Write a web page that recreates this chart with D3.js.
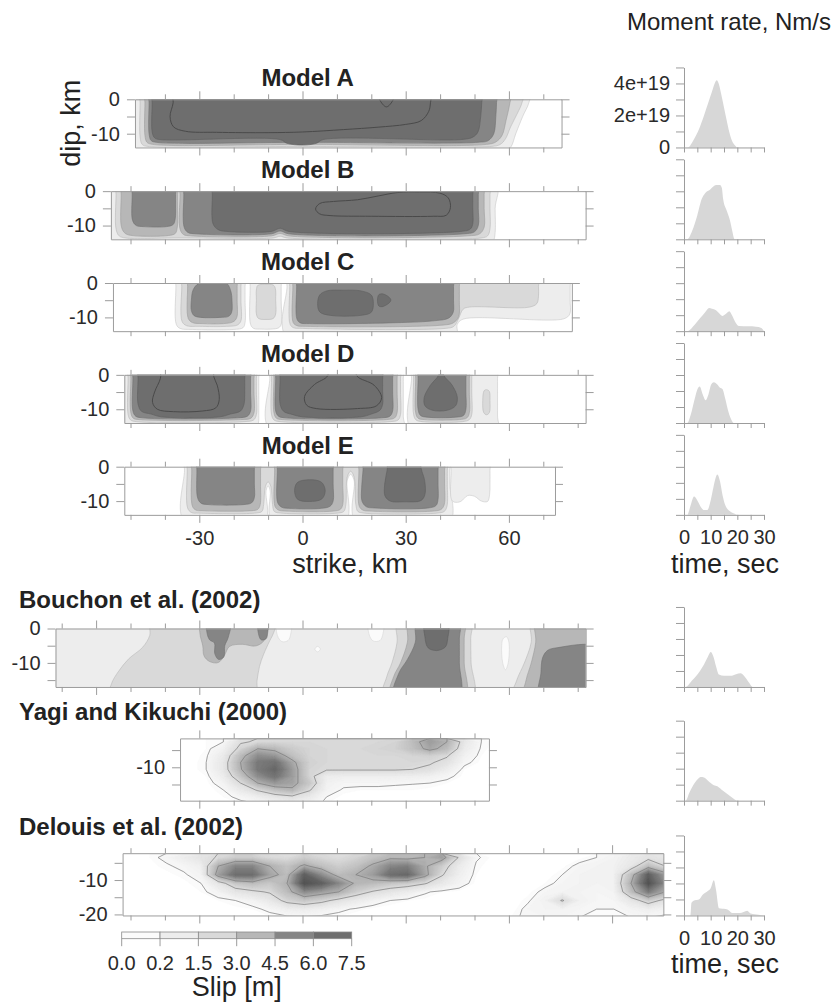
<!DOCTYPE html>
<html><head><meta charset="utf-8">
<script src="https://cdn.jsdelivr.net/npm/d3@7"></script>
<style>body{margin:0;background:#fff}svg{display:block}</style>
</head><body><script>
// ---------------- DATA ----------------
const modelTitles = ['Model A','Model B','Model C','Model D','Model E'];
const modelExtents = [[-48.7,75.3],[-55.7,82.3],[-55.1,78.3],[-51.8,82.3],[-51.8,73.4]];
const refTitles = ['Bouchon et al. (2002)','Yagi and Kikuchi (2000)','Delouis et al. (2002)'];
const refExtents = [[-71.8,82.3],[-35.6,54.2],[-52.3,104.9]];
const refDips = [[0,-17],[-1.6,-19.7],[-2.2,-20.3]];
const slipLevels = [0.0,0.2,1.5,3.0,4.5,6.0,7.5];
const slipColors = ['#fbfbfb','#ededed','#d9d9d9','#b7b7b7','#858585','#6e6e6e'];
const strikeLabels = [-30,0,30,60];
const timeTicks = [0,5,10,15,20,25,30];
const timeLabels = [0,10,20,30];
const momentTicks = [0,1,2,3,4,5];
const momentLabels = {0:'0',2:'2e+19',4:'4e+19'};

// slip contour rings [level, [[strike km, dip km], ...]]
const modelA = [
 [0.2,[[-51,3],[-51,-16],[58,-16],[60.5,-14],[62,-10],[64,-5],[65.8,-1],[66.2,3]]],
 [1.5,[[-47.2,3],[-47.2,-1],[-47.2,-11],[-46.6,-13.1],[-45,-13.7],[0,-13.7],[55,-13.7],[57.5,-13.1],[59,-11.5],[60.5,-8],[62.5,-4],[63.8,-1],[64.2,3]]],
 [3.0,[[-45.8,3],[-45.8,-1],[-45.8,-10.5],[-45.2,-12.5],[-43.5,-13.1],[0,-13.1],[53.5,-13.1],[56.2,-12.4],[58,-10.5],[59.2,-6],[60.3,-1],[60.6,3]]],
 [4.5,[[-44.6,3],[-44.6,-1],[-44.6,-10],[-44,-12],[-42.5,-12.5],[0,-12.5],[51,-12.5],[54,-12],[55.6,-10],[56.2,-5],[56.4,-1],[56.4,3]]],
 [6.0,[[-43.7,3],[-43.7,-1],[-43.7,-9.5],[-43,-11.2],[-41.5,-11.7],[-6.5,-11.7],[-4.5,-12.8],[0,-13.3],[4,-12.8],[6,-11.7],[46,-11.7],[49.5,-11],[51,-9.5],[51.8,-5],[52.1,-1],[52.1,3]]],
 [7.5,[[-37.6,3],[-37.6,-1],[-38.5,-5],[-37.5,-8],[-34,-9.3],[-25,-9.6],[-10,-9.7],[0,-9.5],[12,-8.8],[22,-8.1],[30,-7.3],[34.5,-6.2],[36.7,-3.5],[37.2,-1],[37.3,3],[26.6,3],[26.4,0],[24.4,-2.2],[22.4,0],[22.2,3]]]
];
const modelB = [
 [0.2,[[-58,3],[-58,-16],[54,-16],[55.5,-14.5],[56,-12],[56,-5],[56,3]]],
 [1.5,[[-54.2,3],[-54.2,-1],[-54.2,-11],[-53.3,-13],[-51.5,-13.6],[-36,-13.6],[-8.5,-13.6],[-6.5,-13.1],[-4.5,-13.6],[52,-13.6],[53.8,-13],[54.5,-11],[54.5,-5],[54.5,-1],[54.5,3]]],
 [3.0,[[-52.7,3],[-52.7,-1],[-52.6,-10.5],[-51.5,-12.3],[-49.5,-12.9],[-39,-12.9],[-37,-12.3],[-36.4,-10.5],[-36.3,-5],[-36.3,-1],[-36.3,3]]],
 [3.0,[[-35.6,3],[-35.6,-1],[-35.6,-11],[-34.6,-12.6],[-32.5,-13],[-9,-13],[-6.5,-12.3],[-4,-13],[48,-13],[51.5,-12.4],[52.8,-10.5],[52.8,-5],[52.8,-1],[52.8,3]]],
 [4.5,[[-49.5,3],[-49.5,-1],[-49.4,-8.5],[-48.3,-10],[-46.3,-10.3],[-39.5,-10.3],[-37.6,-9.7],[-37,-8],[-36.9,-4],[-36.9,-1],[-36.9,3]]],
 [4.5,[[-34.5,3],[-34.5,-1],[-34.4,-10.5],[-33.3,-12],[-31,-12.4],[-9,-12.4],[-6.5,-11.6],[-4,-12.4],[47,-12.4],[50,-11.8],[51.1,-10],[51.1,-5],[51.1,-1],[51.1,3]]],
 [6.0,[[-26.2,3],[-26.2,-1],[-26,-9.5],[-24.5,-11.2],[-22,-11.7],[-9,-11.7],[-6.5,-10.8],[-4,-11.7],[46,-11.7],[48.8,-11],[49.5,-9.5],[49.5,-5],[49.5,-1],[49.5,3]]],
 [7.5,[[3.8,-5.2],[5,-3.6],[9,-3],[16,-2.5],[22,-1.4],[27.7,-0.4],[34,-0.3],[40,-0.6],[42.4,-2],[43,-4.8],[41.8,-7],[38,-7.3],[20,-7.3],[8,-7.1],[5,-6.6]]]
];
const modelC = [
 [0.2,[[-36.8,3],[-36.8,-1],[-36.7,-12],[-35.6,-13.2],[-32,-13.5],[-20,-13.5],[-17.3,-13],[-16.7,-11.5],[-16.7,-5],[-16.7,-1],[-16.7,3]]],
 [1.5,[[-35.1,3],[-35.1,-1],[-35,-11.2],[-33.7,-12.4],[-30,-12.6],[-22,-12.6],[-18.9,-12.2],[-17.9,-11],[-17.9,-5],[-17.9,-1],[-17.9,3]]],
 [3.0,[[-33.4,3],[-33.4,-1],[-33.2,-10.3],[-32,-11.5],[-29,-11.8],[-23,-11.8],[-20.2,-11.3],[-19.1,-10],[-19,-5],[-19,-1],[-19,3]]],
 [4.5,[[-32.3,-5],[-31.8,-2],[-30.2,-0.1],[-28,0.5],[-24,0.5],[-21.9,-0.2],[-20.8,-2.5],[-20.5,-5],[-20.6,-8.5],[-21.5,-9.7],[-24,-10],[-29.5,-10],[-31.5,-9.5],[-32.3,-8]]],
 [0.2,[[-15.2,3],[-15.2,-1],[-15.1,-12],[-14.2,-13.2],[-12,-13.4],[-9,-13.4],[-6.9,-13],[-6.2,-12],[-6.2,-5],[-6.2,-1],[-6.2,3]]],
 [1.5,[[-13.4,-2],[-13,-0.7],[-11,-0.4],[-8.5,-0.6],[-7.9,-1.6],[-7.8,-5],[-7.8,-9],[-8.5,-10.3],[-10.6,-10.6],[-12.8,-10.3],[-13.4,-9],[-13.4,-5]]],
 [0.2,[[-4.5,3],[-4.5,-1],[-4.5,-16],[44.6,-16],[45,-12],[46.7,-10.5],[76,-10.4],[77.7,-9],[77.8,-5],[77.8,-1],[77.8,3]]],
 [1.5,[[-3.7,3],[-3.7,-1],[-3.6,-12],[-2.6,-13],[0,-13.2],[41.5,-13.2],[44,-12.6],[45.3,-10.5],[46.7,-7.6],[48.5,-7],[66,-7],[68.1,-6],[68.6,-4],[68.6,-1],[68.6,3]]],
 [3.0,[[-2.8,3],[-2.8,-1],[-2.7,-11.5],[-1.6,-12.4],[1,-12.6],[40,-12.3],[43.8,-11.6],[45.4,-9.8],[45.6,-5],[45.6,-1],[45.6,3]]],
 [4.5,[[-1.7,3],[-1.7,-1],[-1.6,-10.5],[-0.6,-11.6],[2,-11.8],[25,-11.6],[38,-11],[42.5,-10.2],[43.8,-8.5],[43.9,-5],[43.9,-1],[43.9,3]]],
 [6.0,[[4.4,-6],[5,-3.5],[7,-2.3],[12,-2.1],[17,-2.3],[20,-3.5],[20.6,-6],[20,-8.5],[17,-9.4],[8,-9.4],[5,-8.4]]],
 [6.0,[[21.8,-5],[22.2,-3.4],[23.5,-3.2],[25.5,-4.5],[25.6,-5.3],[23.5,-6.8],[22.2,-6.7]]]
];
const modelD = [
 [0.2,[[-53,3],[-53,-16],[-13.5,-16],[-12.8,-14],[-12.7,-11],[-12.7,-5],[-12.7,-1],[-12.7,3]]],
 [1.5,[[-50.7,3],[-50.7,-1],[-50.7,-11.5],[-50,-13.1],[-48.3,-13.6],[-17,-13.6],[-14.2,-13.1],[-13.4,-11.5],[-13.4,-5],[-13.4,-1],[-13.4,3]]],
 [3.0,[[-49.9,3],[-49.9,-1],[-49.9,-11],[-49.2,-12.6],[-47.5,-13],[-18,-13],[-15,-12.6],[-14.1,-11],[-14.1,-5],[-14.1,-1],[-14.1,3]]],
 [4.5,[[-49.3,3],[-49.3,-1],[-49.3,-10.5],[-48.5,-12],[-46.5,-12.5],[-19,-12.5],[-16,-12],[-15.1,-10.5],[-15.1,-5],[-15.1,-1],[-15.1,3]]],
 [6.0,[[-47.8,3],[-47.8,-1],[-47.8,-8.5],[-46.8,-10.6],[-44,-11.4],[-41,-12.2],[-24,-12.2],[-21,-11.4],[-18,-10.5],[-17,-8.5],[-16.8,-5],[-16.8,-1],[-16.8,3]]],
 [7.5,[[-41,3],[-41.3,-1],[-43,-5],[-43.6,-8],[-42.2,-10],[-37.5,-10.7],[-29,-10.5],[-25.2,-9.6],[-24.2,-7.2],[-24.8,-3],[-25.8,-0.5],[-26,3]]],
 [0.2,[[-9.5,3],[-9.5,-1],[-9.5,-16],[29.3,-16],[29.3,-12],[29.3,-5],[29.3,-1],[29.3,3]]],
 [1.5,[[-9,3],[-9,-1],[-9,-11.5],[-8.3,-13.1],[-6.5,-13.6],[25.5,-13.6],[27.8,-13.1],[28.5,-11.5],[28.5,-5],[28.5,-1],[28.5,3]]],
 [3.0,[[-8.3,3],[-8.3,-1],[-8.3,-11],[-7.6,-12.6],[-5.8,-13],[24.5,-13],[26.8,-12.5],[27.5,-11],[27.5,-5],[27.5,-1],[27.5,3]]],
 [4.5,[[-7.8,3],[-7.8,-1],[-7.8,-10.5],[-7,-12],[-5,-12.5],[23,-12.5],[25.4,-12],[26.2,-10.5],[26.2,-5],[26.2,-1],[26.2,3]]],
 [6.0,[[-6.5,3],[-6.5,-1],[-6.5,-8.5],[-5.5,-10.6],[-3,-11.5],[0,-12.2],[17,-12.2],[20,-11.4],[22.5,-10.3],[23.3,-8.5],[23.3,-5],[23.3,-1],[23.3,3]]],
 [7.5,[[7.5,3],[7.3,-0.3],[3.5,-2.8],[0.6,-6.3],[1.2,-8.8],[4,-9.8],[16,-9.8],[21.5,-9],[23,-6.6],[20.8,-3],[15.8,-0.3],[15.5,3]]],
 [0.2,[[31.7,3],[31.7,-1],[31.7,-16],[56.7,-16],[56.7,-12],[56.7,-5],[56.7,-1],[56.7,3]]],
 [1.5,[[32.3,3],[32.3,-1],[32.3,-11.5],[33,-13.1],[34.8,-13.6],[46.5,-13.6],[48.5,-13],[49.2,-11.5],[49.2,-5],[49.2,-1],[49.2,3]]],
 [1.5,[[52.4,-7.5],[52.8,-4.6],[53.5,-4.3],[54.3,-4.8],[54.5,-7.5],[54.3,-11],[53.5,-11.6],[52.7,-11]]],
 [3.0,[[32.9,3],[32.9,-1],[32.9,-11],[33.6,-12.6],[35.4,-13],[45.6,-13],[47.8,-12.5],[48.5,-11],[48.5,-5],[48.5,-1],[48.5,3]]],
 [4.5,[[33.6,3],[33.6,-1],[33.6,-10],[34.3,-11.8],[36.2,-12.3],[44.5,-12.3],[46.8,-11.8],[47.5,-10],[47.5,-5],[47.5,-1],[47.5,3]]],
 [6.0,[[39.8,3],[39.6,0],[37.2,-3],[35.4,-6.5],[35.6,-9],[37.8,-10.3],[42,-10.3],[44.5,-9],[45,-6.5],[43.5,-3],[41,0],[40.8,3]]]
];
const modelE = [
 [0.2,[[-34.3,3],[-34.3,-1],[-34.3,-16],[-11,-16],[-10.6,-7],[-10,-5.5],[-9.4,-7],[-8.8,-16],[12.5,-16],[13,-4],[14,-2.2],[15,-4],[15.5,-16],[42.8,-16],[42.8,-5],[42.8,-1],[42.8,3]]],
 [1.5,[[-33.5,3],[-33.5,-1],[-33.4,-12],[-32.3,-13.3],[-30,-13.5],[-14,-13.5],[-11.8,-13],[-11.3,-11],[-10.8,-5.8],[-10,-4.4],[-9.2,-5.8],[-8.7,-11],[-8.2,-13],[-6,-13.5],[10,-13.5],[12,-13],[12.6,-11],[13,-3],[14,-1.3],[15,-3],[15.5,-11],[16.1,-13],[18,-13.5],[39,-13.5],[41.2,-13],[42,-11.5],[42.1,-5],[42.1,-1],[42.1,3]]],
 [3.0,[[-32.2,3],[-32.2,-1],[-32,-11.5],[-31,-12.6],[-29,-12.8],[-15,-12.8],[-13,-12.4],[-12.3,-11],[-12.2,-5],[-12.2,-1],[-12.2,3]]],
 [4.5,[[-30.7,3],[-30.7,-1],[-30.5,-9],[-29.5,-10.6],[-27.5,-11],[-17,-11],[-14.8,-10.5],[-14,-9],[-14,-5],[-14,-1],[-14,3]]],
 [3.0,[[-8.1,3],[-8.1,-1],[-8,-11.5],[-7,-12.6],[-5,-12.9],[9,-12.9],[11,-12.4],[11.7,-11],[11.7,-5],[11.7,-1],[11.7,3]]],
 [4.5,[[-7.3,3],[-7.3,-1],[-7.2,-10.5],[-6,-11.8],[-4,-12.1],[5.5,-12.1],[8,-11.5],[8.9,-10],[8.9,-5],[8.9,-1],[8.9,3]]],
 [6.0,[[-2.3,-7],[-1.5,-4.6],[2,-3.8],[5.5,-4.5],[6.6,-7],[5.6,-9.4],[2,-10.1],[-1.4,-9.5]]],
 [3.0,[[16.4,3],[16.4,-1],[16.5,-11.5],[17.5,-12.6],[19.5,-12.9],[38,-12.9],[40.3,-12.4],[41.2,-11],[41.3,-5],[41.3,-1],[41.3,3]]],
 [4.5,[[17.8,3],[17.6,-1],[17.2,-6],[17.3,-10],[18.5,-11.6],[21,-12],[36.5,-12],[38.8,-11.3],[39.4,-9.5],[39.4,-5],[39.4,-1],[39.4,3]]],
 [6.0,[[25,3],[24.6,-1],[23.9,-5],[24,-8.5],[25.5,-10],[29.5,-10.2],[34.5,-9.8],[35.6,-8],[35.5,-4],[34.5,-0.5],[34.2,3]]],
 [0.2,[[43.2,3],[43.2,-1],[43.3,-9.5],[44.2,-10.3],[46,-10.1],[48,-8.4],[50,-8.6],[52,-10],[53.8,-10.1],[54.4,-8],[54.5,-5],[54.5,-1],[54.5,3]]]
];
const bouchon = [
 [0.2,[[-75,3],[-75,-20],[85,-20],[85,3]]],
 [1.5,[[-44,3],[-44.4,-2],[-46.5,-5.5],[-50.5,-8.8],[-53.5,-12.5],[-55.5,-16],[-56,-20],[-14,-20],[-13.2,-15],[-12.5,-11],[-11.3,-7.5],[-9.5,-3.5],[-8.3,-1],[-7.8,3]]],
 [3.0,[[-29.5,3],[-29.8,-1.5],[-29,-5],[-28.6,-8],[-27,-9.6],[-24.5,-9.9],[-22.8,-8],[-21.2,-5.2],[-17.5,-4.6],[-13.8,-5.1],[-11.6,-4],[-10.6,-2],[-10.2,3]]],
 [4.5,[[-27.8,3],[-27.8,-1],[-27,-3.3],[-25.6,-4.2],[-25.5,-7.3],[-24.4,-9],[-22.9,-8.3],[-22.6,-5],[-21.6,-2.6],[-21,3]]],
 [4.5,[[-12.8,3],[-12.8,-1.5],[-12,-3.3],[-10.6,-3],[-10.1,-1],[-10.1,3]]],
 [0.0,[[-7.3,3],[-7.3,-2],[-6,-3.8],[-4.2,-3.5],[-3.4,-1.5],[-3.4,3]]],
 [0.0,[[3.6,-6],[4.4,-5.2],[5.2,-6],[4.4,-6.8]]],
 [0.0,[[19.3,3],[19.3,-1.5],[20.5,-3.6],[22.5,-3.5],[23.4,-1.5],[23.4,3]]],
 [0.0,[[58.3,-3],[59.3,-2.4],[60,-4],[59.8,-10],[59,-12],[58.2,-10],[57.9,-5]]],
 [1.5,[[27.8,3],[27.5,-4],[26,-10],[24.5,-14],[23.5,-20],[49.5,-20],[49,-10],[48.9,-3],[48.9,3]]],
 [3.0,[[31.1,3],[30.5,-4],[28.5,-10],[26.5,-14],[25.5,-20],[47.2,-20],[47,-10],[47,-3],[47,3]]],
 [4.5,[[33.3,3],[32.8,-4],[30.5,-9],[28,-13],[26.6,-20],[45.5,-20],[45.6,-10],[45.6,-3],[45.6,3]]],
 [6.0,[[35.6,3],[35.6,-2.5],[36.5,-5.6],[39,-6.4],[41.5,-5.4],[42.2,-3],[42.2,3]]],
 [1.5,[[66.7,3],[66.5,-4],[64.5,-10],[62.3,-15],[61.2,-20],[86,-20],[86,3]]],
 [3.0,[[68,3],[67.8,-4],[66.5,-10],[65,-15],[64.5,-20],[86,-20],[86,3]]],
 [4.5,[[86,-5.6],[74,-5.6],[71.2,-6.4],[69.8,-8.5],[69.3,-13],[69,-20],[86,-20]]]
];
// gridded slip (m): rows = dip, columns = strike
const yagiGrid = {x0:-35.5, dx:5, y0:-1.6, dy:-2};
const yagiSlip = [
 [0,0.1,0.2,1.4,1.6,1.7,1.7,1.7,1.6,1.6,1.6,1.7,1.8,2.6,3.6,3.0,1.0,0.2,0],
 [0,0.1,0.5,1.8,3.0,2.7,2.1,1.8,1.7,1.7,1.7,1.8,1.9,2.5,3.3,2.6,0.8,0.15,0],
 [0,0.15,0.8,2.6,4.0,3.7,2.5,1.8,1.7,1.7,1.7,1.7,1.7,1.8,1.9,1.6,0.5,0.1,0],
 [0,0.2,1.0,3.0,4.6,4.9,3.3,1.9,1.7,1.7,1.7,1.7,1.7,1.7,1.6,1.2,0.3,0.05,0],
 [0,0.2,1.0,2.9,4.6,5.3,3.6,1.8,1.6,1.6,1.6,1.6,1.6,1.5,1.3,0.7,0.1,0,0],
 [0,0.1,0.7,2.3,4.0,4.8,3.6,1.8,0.7,0.6,0.6,0.6,0.6,0.6,0.5,0.3,0.05,0,0],
 [0,0.05,0.4,1.5,3.0,3.7,3.4,2.2,0.5,0.3,0.3,0.3,0.25,0.22,0.2,0.1,0,0,0],
 [0,0,0.2,0.8,1.6,2.4,2.8,1.6,0.4,0.15,0.1,0.1,0.1,0.1,0.05,0,0,0,0],
 [0,0,0.1,0.3,0.6,1.0,1.3,0.8,0.2,0.05,0,0,0,0,0,0,0,0,0],
 [0,0,0,0.1,0.2,0.4,0.5,0.4,0.1,0,0,0,0,0,0,0,0,0,0]
];
const delouisGrid = {x0:-52, dx:5, y0:-2.2, dy:-2.5};
const delouisSlip = [
 [0,0.1,0.3,0.7,1.1,1.6,2.0,2.0,1.6,1.5,2.0,1.7,1.5,1.8,2.4,2.8,2.7,3.0,3.5,1.4,0.25,0.05,0,0,0,0,0.05,0.2,0.4,0.8,1.2,1.0,0.8],
 [0,0.05,0.15,0.3,0.6,3.0,4.2,4.2,3.0,2.4,3.2,2.5,2.0,2.4,3.2,4.2,4.4,3.2,2.0,0.8,0.15,0,0,0,0,0.05,0.3,0.4,0.5,1.0,2.5,1.5,1.0],
 [0,0,0.05,0.15,0.4,3.5,5.0,5.0,3.4,2.6,5.5,4.0,2.6,3.0,3.6,5.0,5.2,3.4,1.6,0.6,0.1,0,0,0,0,0.2,0.4,0.4,0.5,2.5,5.5,3.5,2.0],
 [0,0,0,0.05,0.2,1.0,2.2,2.6,2.2,3.0,6.0,5.5,4.2,2.8,2.6,2.2,2.0,1.6,0.9,0.4,0.05,0,0,0,0.1,0.3,0.4,0.4,0.5,3.0,6.0,4.0,2.0],
 [0,0,0,0,0.1,0.4,1.0,1.3,1.6,2.6,4.0,3.5,3.0,2.0,1.4,1.0,0.7,0.25,0.1,0.05,0,0,0,0.05,0.3,0.4,0.4,0.3,0.4,2.5,4.5,3.0,1.5],
 [0,0,0,0,0,0.1,0.2,0.4,0.9,1.8,2.2,1.8,1.2,0.8,0.4,0.2,0.1,0.05,0,0,0,0,0,0.15,0.5,1.6,0.5,0.3,0.3,1.0,2.0,1.2,0.6],
 [0,0,0,0,0,0,0.05,0.1,0.3,0.6,0.7,0.5,0.3,0.15,0.05,0,0,0,0,0,0,0,0,0.3,0.4,0.4,0.3,0.2,0.2,0.4,0.6,0.4,0.2],
 [0,0,0,0,0,0,0,0,0.05,0.1,0.1,0.1,0.05,0,0,0,0,0,0,0,0,0,0.1,0.3,0.3,0.3,0.2,0.1,0.1,0.2,0.2,0.1,0.05]
];
// moment rate [time s, 1e19 Nm/s]
const mrA = [[0,0],[1.5,0],[3,0.3],[4.5,0.75],[6,1.3],[7.5,2.0],[9,2.75],[10.5,3.5],[11.5,4.0],[12.3,4.2],[13,4.0],[14,3.3],[15,2.5],[16,1.7],[17,0.95],[18,0.42],[19,0.15],[20,0],[30,0]];
const mrB = [[0,0],[1.2,0],[3,0.5],[5,1.5],[6.6,2.5],[8,2.9],[9.75,3.1],[11,3.3],[12,3.4],[13.5,3.4],[14.2,3.2],[14.7,2.5],[16,1.8],[17.2,1.2],[18,0.6],[19,0],[30,0]];
const mrC = [[0,0],[1.2,0],[4,0.4],[6,0.8],[8,1.2],[9.4,1.45],[10.5,1.4],[12,1.3],[13,1.15],[14.4,0.95],[15.5,1.05],[17,1.25],[18,1.0],[19.5,0.5],[20.6,0.32],[24,0.3],[27,0.28],[29,0.2],[30,0]];
const mrD = [[0,0],[1.2,0],[2.5,0.5],[4,1.5],[5,2.1],[5.9,2.28],[7,1.8],[8.1,1.43],[9.2,1.8],[10.2,2.4],[11.2,2.55],[12.5,2.4],[13.5,2.2],[14.4,2.13],[15.5,1.5],[16.5,0.8],[17.5,0.3],[18.7,0],[30,0]];
const mrE = [[0,0],[1.2,0],[2.5,0.6],[3.75,1.14],[5,0.9],[6.5,0.45],[7.5,0.3],[8.7,0.3],[10,0.9],[11,1.7],[12.5,2.53],[13.5,2.1],[14.5,1.2],[15.5,0.6],[17,0.25],[18.5,0.1],[20.6,0],[30,0]];
const mrBouchon = [[0,0],[0.6,0],[3,0.4],[6,1.0],[7.5,1.4],[9,1.9],[10,2.18],[11,1.9],[12,1.3],[13.1,0.78],[15,0.7],[17.5,0.7],[19.5,0.8],[21.3,0.86],[23,0.6],[24.5,0.25],[25.7,0],[30,0]];
const mrYagi = [[0,0],[0.6,0],[2,0.5],[4,1.1],[5.5,1.4],[6.2,1.48],[7.5,1.45],[9,1.25],[10,1.1],[11.2,0.97],[12.5,0.9],[14,0.7],[16,0.45],[18,0.2],[20,0],[30,0]];
const mrDelouis = [[0,0],[2.4,0],[2.8,0.8],[4.1,0.95],[5.6,1.0],[7,1.3],[8.7,1.5],[10,1.7],[11.2,2.2],[12,1.6],[13.1,0.45],[15.6,0.4],[17,0.3],[18.1,0.15],[21,0.15],[23.7,0.3],[25,0.12],[28,0.05],[30,0]];

// ---------------- DRAWING ----------------
const FONT = "'Liberation Sans', Arial, sans-serif";
const W = 833, H = 1005, KM = 3.44;
const svg = d3.select('body').append('svg').attr('width', W).attr('height', H)
  .style('font-family', FONT);
const x = d3.scaleLinear().domain([0, 100]).range([302.5, 302.5 + 100 * KM]);
const fillFor = lev => slipColors[Math.max(0, slipLevels.indexOf(lev))];
const shade = d3.scaleLinear().domain([0, 0.2, 1.5, 3, 4.5, 6]).range(['#ffffff','#f6f6f6','#dcdcdc','#b0b0b0','#7c7c7c','#525252']).clamp(true);
let clipN = 0;

function styleAxis(g, size) {
  g.attr('color', '#9c9c9c');
  g.selectAll('text').attr('fill', '#2a2a2a').attr('font-size', size).attr('font-family', FONT);
  g.selectAll('path.domain').attr('stroke-width', 1);
}

function makeBox(ext, dips, topPx) {
  const y = d3.scaleLinear().domain(dips).range([topPx, topPx + (dips[0] - dips[1]) * KM]);
  const id = 'clip' + (clipN++);
  svg.append('clipPath').attr('id', id).append('rect')
    .attr('x', x(ext[0])).attr('y', y(dips[0])).attr('width', x(ext[1]) - x(ext[0])).attr('height', y(dips[1]) - y(dips[0]));
  const g = svg.append('g');
  const inner = g.append('g').attr('clip-path', `url(#${id})`);
  inner.append('rect').attr('x', x(ext[0])).attr('y', y(dips[0])).attr('width', x(ext[1]) - x(ext[0])).attr('height', y(dips[1]) - y(dips[0])).attr('fill', '#fff');
  return {g, inner, y};
}

function drawRings(inner, rings, y) {
  const line = d3.line().x(d => x(d[0])).y(d => y(d[1])).curve(d3.curveCatmullRomClosed.alpha(0.5));
  inner.selectAll('path.ring').data(rings).join('path').attr('class', 'ring')
    .attr('d', d => line(d[1]))
    .attr('fill', d => d[0] >= 7.5 ? 'none' : fillFor(d[0]))
    .attr('stroke', d => d[0] >= 7.5 ? '#4a4a4a' : d3.color(fillFor(d[0])).darker(0.45))
    .attr('stroke-width', d => d[0] >= 7.5 ? 1 : 0.6);
}

function drawGrid(inner, grid, p, y) {
  const n = grid[0].length, m = grid.length, vals = grid.flat();
  const proj = d3.geoTransform({point: function(px, py) { this.stream.point(x(p.x0 + px * p.dx), y(p.y0 + py * p.dy)); }});
  const path = d3.geoPath(proj);
  const shadeT = d3.range(0.1, 6.6, 0.1);
  inner.append('g').selectAll('path').data(d3.contours().size([n, m]).thresholds(shadeT)(vals)).join('path')
    .attr('d', path).attr('fill', d => shade(d.value)).attr('stroke', d => shade(d.value)).attr('stroke-width', 0.4);
  inner.append('g').selectAll('path').data(d3.contours().size([n, m]).thresholds([0.2, 1.5, 3.0, 4.5])(vals)).join('path')
    .attr('d', path).attr('fill', 'none').attr('stroke', '#7a7a7a').attr('stroke-width', 0.7);
}

function boxAxes(g, ext, y, dipTicks, dipLabels, strikeLab) {
  const xb = x.copy().domain(ext).range([x(ext[0]), x(ext[1])]);
  const sTicks = d3.range(Math.ceil(ext[0] / 10) * 10, ext[1] + 1e-9, 10);
  const y0 = y.range()[0], y1 = y.range()[1];
  const top = g.append('g').attr('transform', `translate(0,${y0})`)
    .call(d3.axisTop(xb).tickValues(sTicks).tickSize(5).tickSizeOuter(0).tickFormat(''));
  top.selectAll('.tick line').attr('y2', d => d % 30 === 0 ? -8 : -5);
  const bot = g.append('g').attr('transform', `translate(0,${y1})`)
    .call(d3.axisBottom(xb).tickValues(sTicks).tickSize(5).tickSizeOuter(0).tickPadding(11)
      .tickFormat(d => strikeLab && strikeLab.includes(d) ? String(d) : ''));
  bot.selectAll('.tick line').attr('y2', d => d % 30 === 0 ? 8 : 5);
  const left = g.append('g').attr('transform', `translate(${x(ext[0])},0)`)
    .call(d3.axisLeft(y).tickValues(dipTicks).tickSize(8).tickSizeOuter(0).tickPadding(7)
      .tickFormat(d => dipLabels.includes(d) ? String(d) : ''));
  const right = g.append('g').attr('transform', `translate(${x(ext[1])},0)`)
    .call(d3.axisRight(y).tickValues(dipTicks).tickSize(8).tickSizeOuter(0).tickFormat(''));
  [top, bot, left, right].forEach(a => styleAxis(a, 20));
}

// model panels
const modelRings = [modelA, modelB, modelC, modelD, modelE];
const modelTops = modelTitles.map((_, i) => 99.3 + i * 91.85);
const mrBase = [];
modelRings.forEach((rings, i) => {
  const b = makeBox(modelExtents[i], [0, -14], modelTops[i]);
  drawRings(b.inner, rings, b.y);
  boxAxes(b.g, modelExtents[i], b.y, [0, -5, -10], [0, -10], i === 4 ? strikeLabels : null);
  svg.append('text').attr('x', x(1.5)).attr('y', modelTops[i] - 13).attr('text-anchor', 'middle')
    .attr('font-size', 24).attr('font-weight', 'bold').attr('fill', '#222').text(modelTitles[i]);
  mrBase.push(b.y(-14));
});

// reference panels
const refTops = [628.5, 738.4, 853.2];
const refTicks = [[0, -5, -10, -15], [-5, -10, -15], [-5, -10, -15, -20]];
const refLabels = [[0, -10], [-10], [-10, -20]];
const refTitleY = [608, 720, 835];
refTitles.forEach((t, i) => {
  const b = makeBox(refExtents[i], refDips[i], refTops[i]);
  if (i === 0) drawRings(b.inner, bouchon, b.y);
  if (i === 1) drawGrid(b.inner, yagiSlip, yagiGrid, b.y);
  if (i === 2) drawGrid(b.inner, delouisSlip, delouisGrid, b.y);
  boxAxes(b.g, refExtents[i], b.y, refTicks[i], refLabels[i], null);
  svg.append('text').attr('x', 19).attr('y', refTitleY[i]).attr('font-size', 24).attr('font-weight', 'bold')
    .attr('fill', '#222').text(t);
  mrBase.push(b.y(refDips[i][1]));
});

// axis titles (left)
svg.append('text').attr('transform', `translate(80,${modelTops[0] + 24}) rotate(-90)`).attr('text-anchor', 'middle')
  .attr('font-size', 27).attr('fill', '#222').text('dip, km');
svg.append('text').attr('x', 350).attr('y', 573).attr('text-anchor', 'middle').attr('font-size', 27).attr('fill', '#222').text('strike, km');

// moment rate panels
const mrSeries = [mrA, mrB, mrC, mrD, mrE, mrBouchon, mrYagi, mrDelouis];
const tScale = d3.scaleLinear().domain([0, 30]).range([684, 764]);
mrSeries.forEach((s, i) => {
  const yb = d3.scaleLinear().domain([0, 5]).range([mrBase[i], mrBase[i] - 80]);
  const g = svg.append('g');
  g.append('path').datum(s)
    .attr('d', d3.area().x(d => tScale(d[0])).y0(yb(0)).y1(d => yb(d[1])).curve(d3.curveMonotoneX))
    .attr('fill', '#d7d7d7');
  const ya = g.append('g').attr('transform', `translate(${tScale(0)},0)`)
    .call(d3.axisLeft(yb).tickValues(momentTicks).tickSize(8).tickSizeOuter(0).tickPadding(6)
      .tickFormat(d => i === 0 && momentLabels[d] !== undefined ? momentLabels[d] : ''));
  const xa = g.append('g').attr('transform', `translate(0,${mrBase[i]})`)
    .call(d3.axisBottom(tScale).tickValues(timeTicks).tickSize(5).tickSizeOuter(0).tickPadding(10)
      .tickFormat(d => (i === 4 || i === 7) && timeLabels.includes(d) ? String(d) : ''));
  styleAxis(ya, 20); styleAxis(xa, 20);
  if (i === 4 || i === 7) {
    svg.append('text').attr('x', 725).attr('y', mrBase[i] + 58).attr('text-anchor', 'middle')
      .attr('font-size', 27).attr('fill', '#222').text('time, sec');
  }
});
svg.append('text').attr('x', 831).attr('y', 30).attr('text-anchor', 'end').attr('font-size', 24)
  .attr('fill', '#222').text('Moment rate, Nm/s');

// colour bar
const cb = d3.scalePoint().domain(slipLevels.map(String)).range([121.7, 351.7]);
const cbTop = 932, cbH = 6.7;
const cbg = svg.append('g');
cbg.selectAll('rect').data(slipColors).join('rect')
  .attr('x', (d, i) => cb(String(slipLevels[i]))).attr('y', cbTop)
  .attr('width', (d, i) => cb(String(slipLevels[i + 1])) - cb(String(slipLevels[i]))).attr('height', cbH)
  .attr('fill', d => d).attr('stroke', '#8a8a8a').attr('stroke-width', 0.8);
cbg.selectAll('line').data(slipLevels).join('line')
  .attr('x1', d => cb(String(d))).attr('x2', d => cb(String(d))).attr('y1', cbTop + cbH).attr('y2', cbTop + cbH + 7.5)
  .attr('stroke', '#9c9c9c');
cbg.selectAll('text').data(slipLevels).join('text')
  .attr('x', d => cb(String(d))).attr('y', 970).attr('text-anchor', 'middle').attr('font-size', 20).attr('fill', '#2a2a2a')
  .text(d => d.toFixed(1));
svg.append('text').attr('x', 236.7).attr('y', 996).attr('text-anchor', 'middle').attr('font-size', 27).attr('fill', '#222').text('Slip [m]');
</script></body></html>
